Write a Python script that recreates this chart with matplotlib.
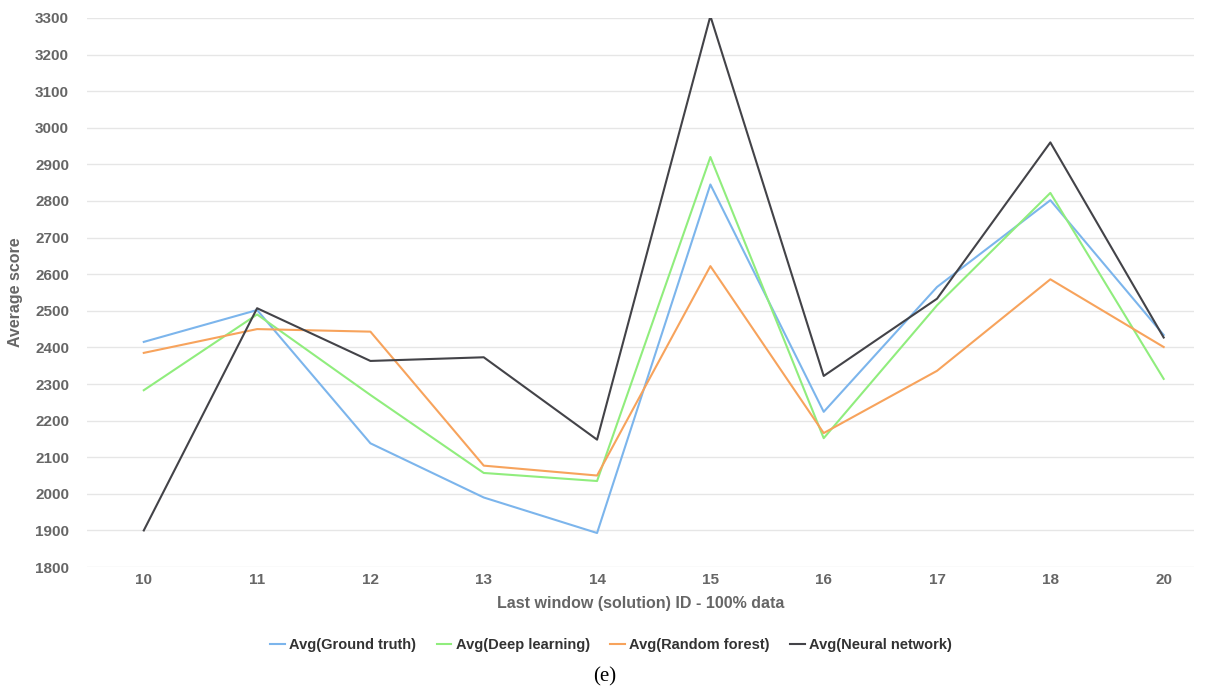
import matplotlib
matplotlib.use("Agg")
import matplotlib.pyplot as plt

windows = ["10", "11", "12", "13", "14", "15", "16", "17", "18", "20"]
ground_truth = [2415, 2502, 2138, 1990, 1893, 2845, 2224, 2565, 2802, 2434]
deep_learning = [2283, 2490, 2270, 2057, 2035, 2920, 2152, 2515, 2822, 2314]
random_forest = [2385, 2450, 2443, 2077, 2050, 2622, 2166, 2336, 2586, 2401]
neural_network = [1900, 2507, 2363, 2373, 2148, 3305, 2322, 2533, 2960, 2427]
yticks = list(range(1800, 3301, 100))

series = [
    ("Avg(Ground truth)", ground_truth, "#7cb5ec"),
    ("Avg(Deep learning)", deep_learning, "#90ed7d"),
    ("Avg(Random forest)", random_forest, "#f7a35c"),
    ("Avg(Neural network)", neural_network, "#434348"),
]

txt = "#666666"
plt.rcParams.update({"font.family": "Liberation Sans"})

fig = plt.figure(figsize=(12.1, 6.89), dpi=100)
ax = fig.add_axes([0.072, 0.177, 0.915, 0.797])

x = range(len(windows))
for label, vals, color in series:
    ax.plot(x, vals, color=color, linewidth=1.5, label=label)

ax.set_ylim(1800, 3300)
ax.set_xlim(-0.5, 9.27)
ax.set_yticks(yticks)
ax.set_xticks(list(x))
ax.set_xticklabels(windows)
ax.grid(axis="y", color="#e6e6e6", linewidth=1)
ax.set_axisbelow(True)
for s in ax.spines.values():
    s.set_visible(False)
ax.tick_params(axis="y", length=0, labelsize=11, colors=txt, pad=13)
ax.tick_params(axis="x", length=0, labelsize=11, colors=txt, pad=4)
for t in ax.get_xticklabels() + ax.get_yticklabels():
    t.set_fontweight("bold")

ax.set_xlabel("Last window (solution) ID - 100% data", fontsize=11.5, fontweight="bold", color=txt, labelpad=7)
ax.set_ylabel("Average score", fontsize=11.5, fontweight="bold", color=txt, labelpad=9)

leg = fig.legend(loc="center", bbox_to_anchor=(0.505, 0.064), ncol=4, frameon=False,
                 fontsize=10.5, handlelength=1.0, handletextpad=0.3, columnspacing=1.4)
for t in leg.get_texts():
    t.set_fontweight("bold")
    t.set_color("#333333")

fig.text(0.5, 0.018, "(e)", ha="center", va="center", fontsize=15, family="Liberation Serif")

fig.savefig("out.png", dpi=100)
